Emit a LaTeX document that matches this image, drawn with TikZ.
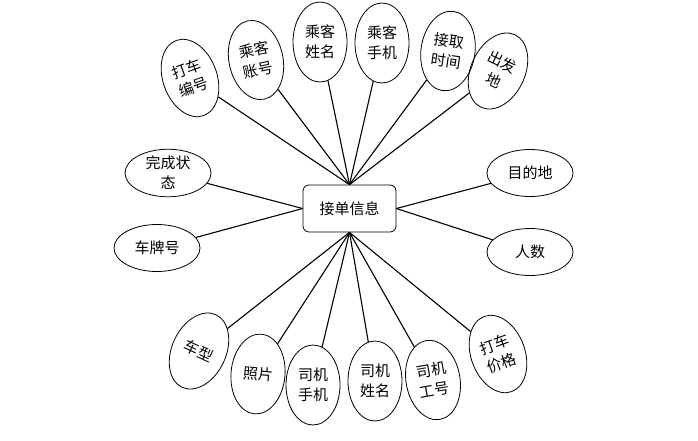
\documentclass[tikz,border=0pt]{standalone}
\usepackage{fontspec}
\newfontfamily\cjk{Noto Sans CJK SC}
\usetikzlibrary{shapes.geometric, positioning}

\begin{document}
\begin{tikzpicture}[
        x=1pt, y=-1pt,
        % Styling the entity box and the attribute ovals
        entity/.style={draw, rounded corners=6pt, minimum width=93pt, minimum height=47pt,
            line width=0.8pt, font=\cjk\fontsize{15}{20}\selectfont},
        attr/.style={draw, ellipse, minimum width=54pt, minimum height=80pt, inner sep=0pt,
            line width=0.8pt, align=center, font=\cjk\fontsize{15}{20}\selectfont},
        wide attr/.style={attr, minimum width=86pt, minimum height=47pt},
        link/.style={line width=1.1pt}
    ]
    \useasboundingbox (0,0) rectangle (698,440);

    % --- Entity ---
    \node[entity] (info) at (349.5,208.5) {接单信息};

    % --- Attributes above ---
    \node[attr, rotate=20] (fareno) at (190,78) {打车\\编号};
    \node[attr, rotate=12] (acct) at (256,60) {乘客\\账号};
    \node[attr] (pname) at (320,42) {乘客\\姓名};
    \node[attr] (pphone) at (382,43) {乘客\\手机};
    \node[attr, rotate=-8] (pickup) at (448,51) {接取\\时间};
    \node[attr, rotate=-25] (origin) at (498,71) {出发\\地};

    % --- Attributes at the sides ---
    \node[wide attr] (status) at (168,173) {完成状\\态};
    \node[wide attr] (plate) at (157,248) {车牌号};
    \node[wide attr] (dest) at (530,173) {目的地};
    \node[wide attr] (count) at (530,252) {人数};

    % --- Attributes below ---
    \node[attr, rotate=-25] (model) at (199,351) {车型};
    \node[attr, rotate=-5] (photo) at (258,374) {照片};
    \node[attr] (dphone) at (313,385) {司机\\手机};
    \node[attr] (dname) at (375,381) {司机\\姓名};
    \node[attr, rotate=10] (dno) at (433,380) {司机\\工号};
    \node[attr, rotate=20] (price) at (498,354) {打车\\价格};

    % --- Links ---
    \path[link]
        (info.north) edge (fareno) edge (acct) edge (pname)
                     edge (pphone) edge (pickup) edge (origin)
        (info.west) edge (status) edge (plate)
        (info.east) edge (dest) edge (count)
        (info.south) edge (model) edge (photo) edge (dphone)
                     edge (dname) edge (dno) edge (price);

\end{tikzpicture}
\end{document}
